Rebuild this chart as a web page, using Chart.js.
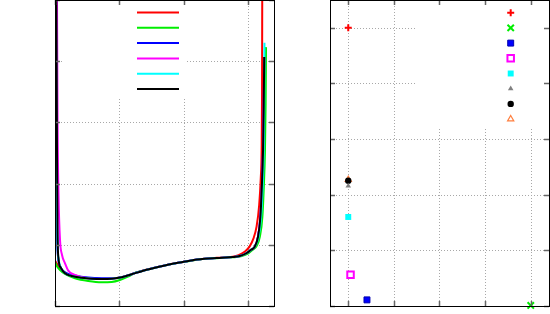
<!DOCTYPE html>
<html>
<head>
<meta charset="utf-8">
<script src="https://cdn.jsdelivr.net/npm/chart.js@4/dist/chart.umd.min.js"></script>
<style>
    html, body { margin: 0; padding: 0; background: #ffffff; }
    #wrap { position: relative; width: 550px; height: 314px; }
    .panel { position: absolute; top: 0; height: 314px; }
    #leftPanel { left: 0; width: 280px; }
    #rightPanel { left: 280px; width: 270px; }
</style>
</head>
<body>
<div id="wrap">
    <div class="panel" id="leftPanel"><canvas id="profileChart"></canvas></div>
    <div class="panel" id="rightPanel"><canvas id="pointChart"></canvas></div>
</div>
<script>
// ===================================
// DATA
// ===================================

// left panel: profiles [x, y]
const redCurve = [[0.005,0.735],[0.03,0.69],[0.06,0.63],[0.1,0.59],[0.155,0.545],[0.259,0.495],[0.414,0.463],[0.569,0.447],[0.724,0.442],[0.879,0.447],[1.034,0.47],[1.189,0.52],[1.369,0.58],[1.736,0.672],[1.984,0.72],[2.248,0.765],[2.512,0.787],[2.76,0.805],[2.85,0.83],[2.95,0.89],[3.02,0.97],[3.08,1.1],[3.13,1.3],[3.17,1.65],[3.195,2.1],[3.208,2.55],[3.214,3.4],[3.218,5.3]];
const greenCurve = [[0.0,0.72],[0.03,0.65],[0.078,0.588],[0.155,0.523],[0.31,0.453],[0.516,0.408],[0.724,0.387],[0.879,0.392],[1.008,0.425],[1.132,0.479],[1.256,0.547],[1.369,0.577],[1.736,0.668],[1.984,0.717],[2.248,0.761],[2.512,0.782],[2.76,0.795],[2.9,0.815],[3.0,0.86],[3.07,0.92],[3.13,0.98],[3.18,1.13],[3.22,1.46],[3.24,1.9],[3.26,2.55],[3.27,3.3],[3.276,4.23]];
const blueCurve = [[0.026,2.17],[0.031,1.73],[0.036,1.08],[0.047,0.806],[0.078,0.654],[0.155,0.55],[0.31,0.5],[0.512,0.466],[0.724,0.453],[0.879,0.452],[1.034,0.472],[1.189,0.52],[1.369,0.578],[1.736,0.67],[1.984,0.719],[2.248,0.763],[2.512,0.784],[2.76,0.8],[2.868,0.817],[2.977,0.866],[3.039,0.915],[3.101,0.969],[3.152,1.132],[3.189,1.459],[3.209,1.895],[3.23,2.549],[3.24,3.2],[3.248,4.07]];
const magentaCurve = [[0.03,5.3],[0.04,3.0],[0.055,1.8],[0.078,1.078],[0.109,0.833],[0.155,0.698],[0.206,0.577],[0.31,0.507],[0.42,0.47],[0.569,0.447],[0.724,0.441],[0.879,0.446],[1.034,0.469],[1.189,0.518],[1.369,0.577],[1.736,0.67],[1.984,0.719],[2.248,0.763],[2.512,0.784],[2.76,0.8],[2.868,0.817],[2.977,0.866],[3.039,0.915],[3.101,0.969],[3.152,1.132],[3.189,1.459],[3.209,1.895],[3.23,2.549],[3.24,3.2],[3.248,4.07]];
const cyanCurve = [[0.015,5.3],[0.022,3.0],[0.03,1.6],[0.04,1.0],[0.06,0.74],[0.1,0.61],[0.155,0.535],[0.259,0.49],[0.414,0.462],[0.569,0.446],[0.724,0.441],[0.879,0.446],[1.034,0.469],[1.189,0.518],[1.369,0.577],[1.736,0.67],[1.984,0.719],[2.248,0.763],[2.512,0.784],[2.76,0.8],[2.868,0.817],[2.977,0.866],[3.039,0.915],[3.101,0.97],[3.16,1.13],[3.2,1.46],[3.222,1.9],[3.24,2.55],[3.248,3.3],[3.252,4.3]];
const blackCurve = [[0.02,5.3],[0.031,2.55],[0.039,1.24],[0.054,0.78],[0.093,0.62],[0.155,0.534],[0.259,0.49],[0.414,0.462],[0.569,0.446],[0.724,0.441],[0.879,0.446],[1.034,0.469],[1.189,0.518],[1.369,0.577],[1.473,0.605],[1.736,0.67],[1.984,0.719],[2.248,0.763],[2.512,0.784],[2.76,0.8],[2.868,0.817],[2.977,0.866],[3.039,0.915],[3.101,0.969],[3.152,1.132],[3.189,1.459],[3.209,1.895],[3.23,2.549],[3.24,3.2],[3.248,4.07]];

const profileXTicks = [0, 1, 2, 3];
const profileYTicks = [0, 1, 2, 3, 4, 5];

// right panel: single points [x, y]
const plusPoints = [[0, 5.0]];
const crossPoints = [[4.0, 0.01]];
const bluePoints = [[0.41, 0.11]];
const openSquarePoints = [[0.05, 0.56]];
const cyanPoints = [[0, 1.6]];
const grayPoints = [[0, 2.16]];
const circlePoints = [[0, 2.25]];
const openTrianglePoints = [[0, 2.27]];

const pointXTicks = [0, 1, 2, 3, 4];
const pointYTicks = [0, 1, 2, 3, 4, 5];

const toXY = arr => arr.map(p => ({ x: p[0], y: p[1] }));

// ===================================
// PLUGIN - frame, grid, ticks, key
// ===================================
const gnuFrame = {
    id: 'gnuFrame',
    beforeDatasetsDraw(chart, args, opts) {
        const { ctx, chartArea: a, scales: { x, y } } = chart;
        ctx.save();
        ctx.strokeStyle = '#a8a8a8';
        ctx.lineWidth = 1;
        ctx.setLineDash([1, 2]);
        opts.xTicks.forEach(v => {
            const px = Math.round(x.getPixelForValue(v)) + 0.5;
            if (px < a.left + 2 || px > a.right - 2) return;
            ctx.beginPath(); ctx.moveTo(px, a.top); ctx.lineTo(px, a.bottom); ctx.stroke();
        });
        opts.yTicks.forEach(v => {
            const py = Math.round(y.getPixelForValue(v)) + 0.5;
            if (py < a.top + 2 || py > a.bottom - 2) return;
            ctx.beginPath(); ctx.moveTo(a.left, py); ctx.lineTo(a.right, py); ctx.stroke();
        });
        ctx.setLineDash([]);
        // key box hides the grid
        const k = opts.key;
        ctx.fillStyle = '#ffffff';
        ctx.fillRect(a.left + k.left, a.top, k.width, k.height);
        ctx.restore();
    },
    afterDatasetsDraw(chart, args, opts) {
        const { ctx, chartArea: a, scales: { x, y } } = chart;
        ctx.save();
        // tick marks, inward on all sides
        ctx.strokeStyle = '#666666';
        ctx.lineWidth = 1.5;
        const len = 5;
        opts.xTicks.forEach(v => {
            const px = Math.round(x.getPixelForValue(v)) + 0.5;
            ctx.beginPath();
            ctx.moveTo(px, a.bottom); ctx.lineTo(px, a.bottom - len);
            ctx.moveTo(px, a.top); ctx.lineTo(px, a.top + len);
            ctx.stroke();
        });
        opts.yTicks.forEach(v => {
            const py = Math.round(y.getPixelForValue(v)) + 0.5;
            ctx.beginPath();
            ctx.moveTo(a.left, py); ctx.lineTo(a.left + len, py);
            ctx.moveTo(a.right, py); ctx.lineTo(a.right - len, py);
            ctx.stroke();
        });
        // border
        ctx.strokeStyle = '#000000';
        ctx.lineWidth = 1;
        ctx.strokeRect(a.left + 0.5, a.top + 0.5, a.right - a.left, a.bottom - a.top);

        // key samples (no text)
        const k = opts.key;
        chart.data.datasets.forEach((ds, i) => {
            const cy = a.top + k.rowTop + i * k.rowGap;
            if (k.type === 'line') {
                ctx.strokeStyle = ds.borderColor;
                ctx.lineWidth = ds.borderWidth;
                ctx.beginPath();
                ctx.moveTo(a.left + k.sampleFrom, cy);
                ctx.lineTo(a.left + k.sampleTo, cy);
                ctx.stroke();
            } else {
                ctx.fillStyle = ds.backgroundColor;
                ctx.strokeStyle = ds.borderColor;
                ctx.lineWidth = ds.borderWidth;
                Chart.helpers.drawPoint(ctx, {
                    pointStyle: ds.pointStyle,
                    rotation: 0,
                    radius: ds.pointRadius,
                    borderWidth: ds.borderWidth
                }, a.left + k.sampleAt, cy);
            }
        });
        ctx.restore();
    }
};

// ===================================
// LEFT CHART - profiles
// ===================================
function lineSet(points, color, order) {
    return {
        label: '',
        data: toXY(points),
        borderColor: color,
        backgroundColor: color,
        borderWidth: 2,
        showLine: true,
        pointRadius: 0,
        cubicInterpolationMode: 'monotone',
        order: order
    };
}

new Chart(document.getElementById('profileChart'), {
    type: 'scatter',
    data: {
        datasets: [
            lineSet(redCurve, '#ff0000', 6),
            lineSet(greenCurve, '#00ee00', 5),
            lineSet(blueCurve, '#0000ff', 4),
            lineSet(magentaCurve, '#ff00ff', 3),
            lineSet(cyanCurve, '#00ffff', 2),
            lineSet(blackCurve, '#000000', 1)
        ]
    },
    options: {
        responsive: true,
        maintainAspectRatio: false,
        animation: false,
        layout: { autoPadding: false, padding: { left: 55, right: 6, top: 0, bottom: 8 } },
        plugins: {
            legend: { display: false },
            tooltip: { enabled: false },
            gnuFrame: {
                xTicks: profileXTicks,
                yTicks: profileYTicks,
                key: { type: 'line', left: 8, width: 124, height: 97, rowTop: 12.5, rowGap: 15.3, sampleFrom: 82, sampleTo: 124 }
            }
        },
        scales: {
            x: { type: 'linear', min: 0, max: 3.4, display: false },
            y: { type: 'linear', min: 0, max: 5, display: false }
        }
    },
    plugins: [gnuFrame]
});

// ===================================
// RIGHT CHART - points
// ===================================
function pointSet(points, style, radius, fill, stroke, width) {
    return {
        label: '',
        data: toXY(points),
        pointStyle: style,
        pointRadius: radius,
        backgroundColor: fill,
        borderColor: stroke,
        borderWidth: width,
        clip: 6
    };
}

new Chart(document.getElementById('pointChart'), {
    type: 'scatter',
    data: {
        datasets: [
            pointSet(plusPoints, 'cross', 3.5, '#ff0000', '#ff0000', 2),
            pointSet(crossPoints, 'crossRot', 4.5, '#00ee00', '#00ee00', 2),
            pointSet(bluePoints, 'rect', 4.2, '#0000ff', '#0000b0', 1),
            pointSet(openSquarePoints, 'rect', 4.6, '#ffffff', '#ff00ff', 2),
            pointSet(cyanPoints, 'rect', 4.2, '#00ffff', '#00ffff', 0),
            pointSet(grayPoints, 'triangle', 3.2, '#808080', '#808080', 0),
            pointSet(circlePoints, 'circle', 3.2, '#000000', '#000000', 0),
            pointSet(openTrianglePoints, 'triangle', 3.6, 'rgba(255,255,255,0)', '#ff7f3f', 1.2)
        ]
    },
    options: {
        responsive: true,
        maintainAspectRatio: false,
        animation: false,
        layout: { autoPadding: false, padding: { left: 50, right: 1, top: 0, bottom: 8 } },
        plugins: {
            legend: { display: false },
            tooltip: { enabled: false },
            gnuFrame: {
                xTicks: pointXTicks,
                yTicks: pointYTicks,
                key: { type: 'point', left: 87, width: 132, height: 127, rowTop: 12.7, rowGap: 15.2, sampleAt: 180.7 }
            }
        },
        scales: {
            x: { type: 'linear', min: -0.4, max: 4.4, display: false },
            y: { type: 'linear', min: 0, max: 5.5, display: false }
        }
    },
    plugins: [gnuFrame]
});
</script>
</body>
</html>
